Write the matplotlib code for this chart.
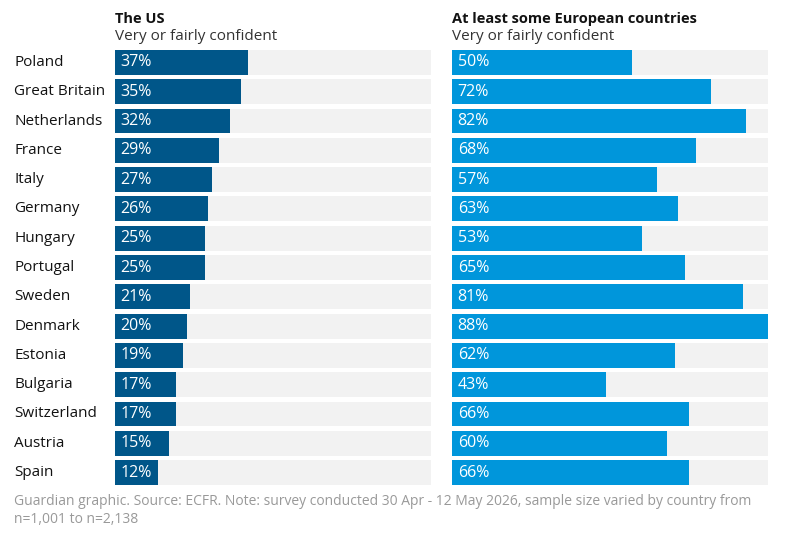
import matplotlib
matplotlib.use("Agg")
import matplotlib.pyplot as plt

countries = ["Poland", "Great Britain", "Netherlands", "France", "Italy", "Germany",
             "Hungary", "Portugal", "Sweden", "Denmark", "Estonia", "Bulgaria",
             "Switzerland", "Austria", "Spain"]
us_vals = [37, 35, 32, 29, 27, 26, 25, 25, 21, 20, 19, 17, 17, 15, 12]
eu_vals = [50, 72, 82, 68, 57, 63, 53, 65, 81, 88, 62, 43, 66, 60, 66]

panel_titles = ["The US", "At least some European countries"]
panel_sub = "Very or fairly confident"
footer = ("Guardian graphic. Source: ECFR. Note: survey conducted 30 Apr - 12 May 2026, "
          "sample size varied by country from\nn=1,001 to n=2,138")

plt.rcParams['font.family'] = ['Open Sans', 'DejaVu Sans']

fig = plt.figure(figsize=(8, 5.41), dpi=100)
bottom, top = 56 / 541, 491 / 541
axes = [fig.add_axes([115 / 800, bottom, 316 / 800, top - bottom]),
        fig.add_axes([452 / 800, bottom, 316 / 800, top - bottom])]
colors = ["#005689", "#0096db"]
xmax = max(eu_vals)
h = 0.85
ys = list(range(len(countries)))

for ax, vals, col, title in zip(axes, [us_vals, eu_vals], colors, panel_titles):
    ax.barh(ys, [xmax] * len(ys), height=h, color="#f2f2f2")
    ax.barh(ys, vals, height=h, color=col)
    for y, v in zip(ys, vals):
        ax.text(1.6, y, f"{v}%", color="white", fontsize=11.5, va="center", ha="left")
    ax.set_xlim(0, xmax)
    ax.set_ylim(len(ys) - 1 + h / 2, -h / 2)
    ax.axis("off")
    ax.text(0, 1.062, title, transform=ax.transAxes, fontsize=10.5, fontweight="bold",
            color="#121212", ha="left", va="baseline")
    ax.text(0, 1.023, panel_sub, transform=ax.transAxes, fontsize=11,
            color="#333333", ha="left", va="baseline")

for y, c in zip(ys, countries):
    axes[0].annotate(c, xy=(0, y), xycoords=("axes fraction", "data"),
                     xytext=(14 / 800, 0), textcoords=("figure fraction", "offset points"),
                     fontsize=11, color="#121212", va="center", ha="left")

fig.text(14 / 800, 1 - 523 / 541, footer, fontsize=10, color="#999999",
         ha="left", va="baseline", linespacing=1.25)

fig.savefig("out.png", dpi=100)
